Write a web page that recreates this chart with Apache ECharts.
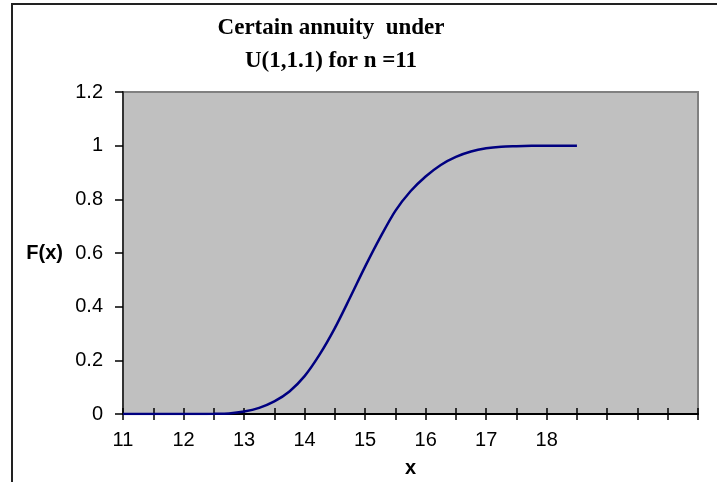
<!DOCTYPE html>
<html>
<head>
<meta charset="utf-8">
<script src="https://cdn.jsdelivr.net/npm/echarts@6/dist/echarts.min.js"></script>
<style>html,body{margin:0;padding:0;background:#fff;}#c{width:717px;height:482px;}</style>
</head>
<body>
<div id="c"></div>
<script>
const titleLines = ['Certain annuity  under', 'U(1,1.1) for n =11'];
const xName = 'x';
const yName = 'F(x)';
const xs = [11, 11.25, 11.5, 11.75, 12, 12.25, 12.5, 12.75, 13, 13.25, 13.5, 13.75, 14, 14.25, 14.5, 14.75, 15, 15.25, 15.5, 15.75, 16, 16.25, 16.5, 16.75, 17, 17.25, 17.5, 17.75, 18, 18.25, 18.5];
const Fx = [0, 0, 0, 0, 0, 0, 0.0005, 0.002, 0.009, 0.023, 0.047, 0.084, 0.141, 0.222, 0.320, 0.433, 0.549, 0.658, 0.757, 0.830, 0.885, 0.928, 0.958, 0.978, 0.990, 0.996, 0.998, 0.9995, 1, 1, 1];
const xLabelMax = 18;

const chart = echarts.init(document.getElementById('c'), null, {renderer: 'canvas'});
const axisFont = {fontFamily: 'Liberation Sans, Arial, sans-serif', fontSize: 20, color: '#000'};
chart.setOption({
  animation: false,
  backgroundColor: '#fff',
  title: {
    text: titleLines.join('\n'),
    left: 326, top: 7, textAlign: 'center',
    textStyle: {fontFamily: 'Liberation Serif, Times New Roman, serif', fontWeight: 'bold', fontSize: 23, lineHeight: 33, color: '#000'}
  },
  graphic: [{
    type: 'polyline', silent: true,
    shape: {points: [[12, 482], [12, 4], [717, 4]]},
    style: {stroke: '#222', lineWidth: 2, fill: null}
  }],
  grid: {left: 123, right: 19, top: 92, bottom: 68, outerBoundsMode: 'none', containLabel: false, show: true, backgroundColor: '#C0C0C0', borderColor: '#808080', borderWidth: 2},
  xAxis: [{
    type: 'value', min: 11, max: 20.5, interval: 0.5, position: 'bottom',
    name: xName, nameLocation: 'middle', nameGap: 44,
    nameTextStyle: {fontFamily: 'Liberation Sans, Arial, sans-serif', fontWeight: 'bold', fontSize: 20, color: '#000'},
    axisLine: {show: true, onZero: false, lineStyle: {color: '#000', width: 2}},
    axisTick: {show: true, inside: false, length: 6, lineStyle: {color: '#000', width: 1.5}},
    axisLabel: Object.assign({margin: 16, formatter: v => (Math.abs(v - Math.round(v)) < 1e-9 && v <= xLabelMax) ? String(Math.round(v)) : ''}, axisFont),
    splitLine: {show: false}
  }, {
    type: 'value', min: 11, max: 20.5, interval: 0.5, position: 'bottom', offset: 0,
    axisLine: {show: false, onZero: false},
    axisTick: {show: true, inside: true, length: 6, lineStyle: {color: '#000', width: 1.5}},
    axisLabel: {show: false},
    splitLine: {show: false}
  }],
  yAxis: {
    type: 'value', min: 0, max: 1.2, interval: 0.2,
    name: yName, nameLocation: 'middle', nameRotate: 0, nameGap: 60,
    nameTextStyle: {fontFamily: 'Liberation Sans, Arial, sans-serif', fontWeight: 'bold', fontSize: 20, color: '#000', align: 'right', padding: [6, 0, 0, 0]},
    axisLine: {show: true, onZero: false, lineStyle: {color: '#333', width: 2}},
    axisTick: {show: true, inside: false, length: 8, lineStyle: {color: '#000', width: 1.5}},
    axisLabel: Object.assign({margin: 20, formatter: v => String(Math.round(v * 10) / 10)}, axisFont),
    splitLine: {show: false}
  },
  series: [{
    type: 'line', xAxisIndex: 0,
    data: xs.map((x, i) => [x, Fx[i]]),
    smooth: 0.3, showSymbol: false,
    lineStyle: {color: '#000080', width: 2.5}
  }]
});
</script>
</body>
</html>
